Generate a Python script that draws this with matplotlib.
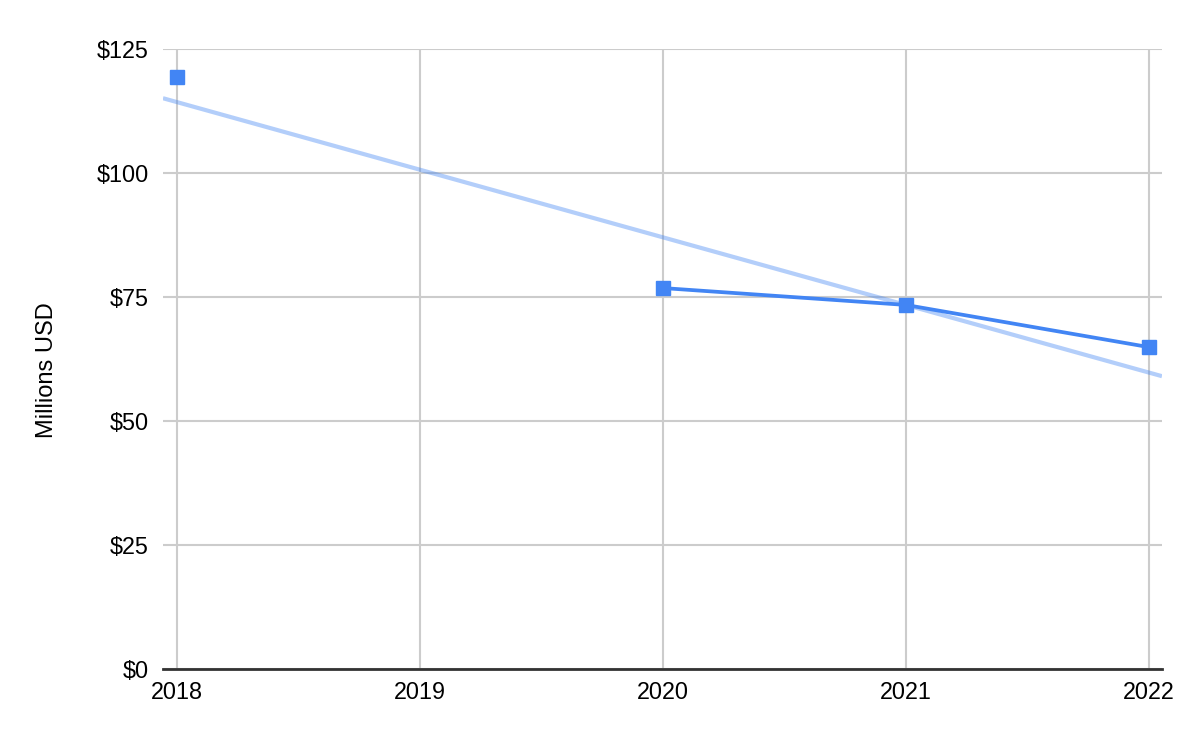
import matplotlib
matplotlib.use("Agg")
import matplotlib.pyplot as plt
import numpy as np

plt.rcParams['font.family'] = ['Liberation Sans', 'DejaVu Sans']

years = [2018, 2020, 2021, 2022]
values = [119.4, 76.8, 73.4, 64.9]
year_ticks = [2018, 2019, 2020, 2021, 2022]
y_ticks = [0, 25, 50, 75, 100, 125]
y_tick_labels = ['$0', '$25', '$50', '$75', '$100', '$125']

fig = plt.figure(figsize=(12, 7.42), dpi=100)
ax = fig.add_axes([0.1358, 0.0984, 0.8325, 0.8356])

xmin, xmax = 2017.942, 2022.055
ax.set_xlim(xmin, xmax)
ax.set_ylim(0, 125)

# trendline (linear fit)
slope, intercept = np.polyfit(years, values, 1)
tx = np.array([xmin, xmax])
ax.plot(tx, slope * tx + intercept, color='#4285F4', alpha=0.4, lw=3, zorder=2,
        solid_capstyle='butt')

# series: line only between consecutive years (gap at 2019)
ax.plot(years[1:], values[1:], color='#4285F4', lw=2.7, zorder=3)
ax.plot(years, values, linestyle='none', marker='s', markersize=9.5,
        color='#4285F4', zorder=4)

ax.set_xticks(year_ticks)
ax.set_xticklabels([str(y) for y in year_ticks])
ax.set_yticks(y_ticks)
ax.set_yticklabels(y_tick_labels)
ax.grid(True, color='#cccccc', lw=1.5, zorder=0)
ax.set_axisbelow(True)
for s in ['top', 'right', 'left']:
    ax.spines[s].set_visible(False)
ax.spines['bottom'].set_color('#333333')
ax.spines['bottom'].set_linewidth(2)
ax.spines['bottom'].set_zorder(5)
ax.tick_params(axis='both', length=0, labelsize=16.8, colors='#000000')
ax.tick_params(axis='x', pad=9)
ax.tick_params(axis='y', pad=10)
ax.set_ylabel('Millions USD', fontsize=17)
ax.yaxis.set_label_coords(-0.105, 0.482)

fig.savefig('out.png', dpi=100)
